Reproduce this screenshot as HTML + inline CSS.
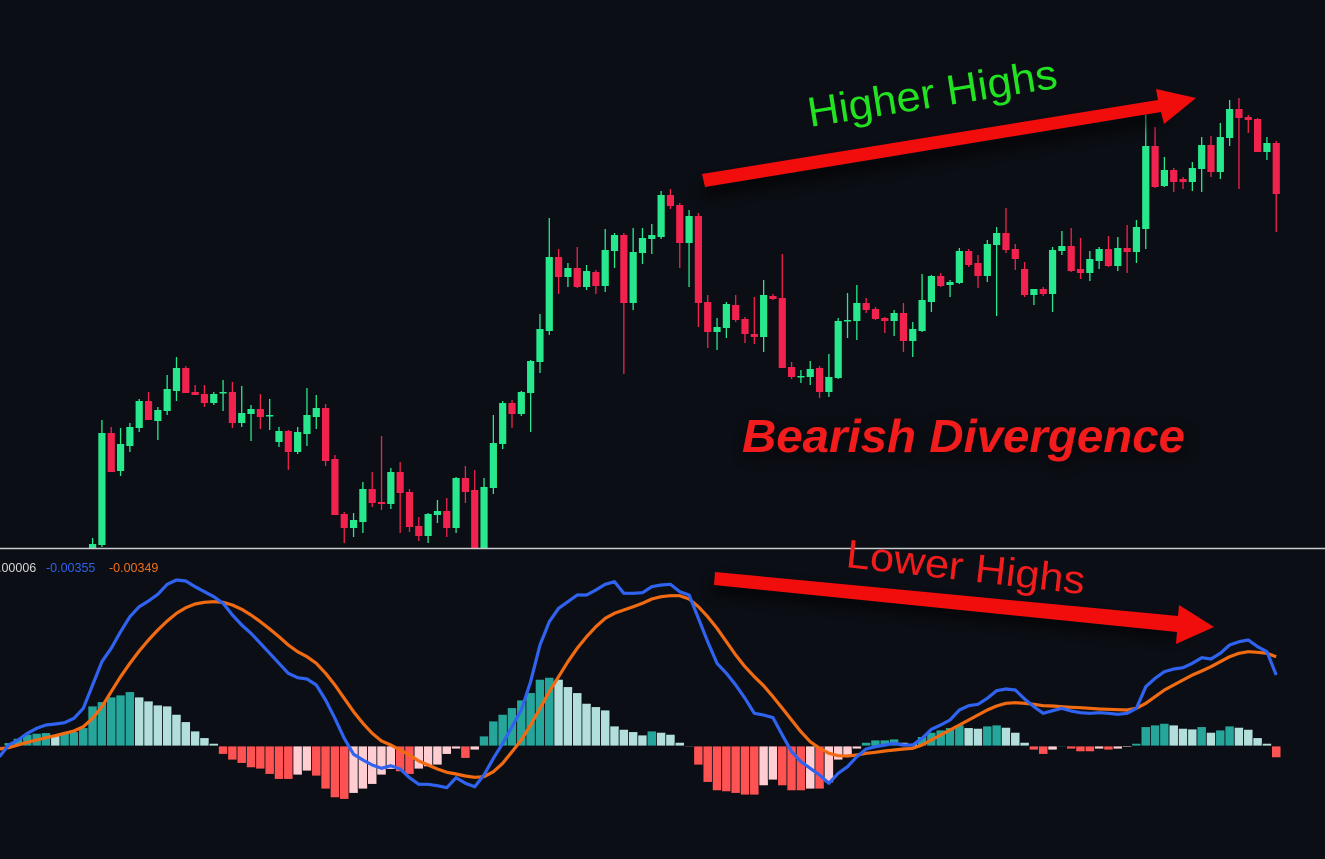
<!DOCTYPE html>
<html><head><meta charset="utf-8"><style>
html,body{margin:0;padding:0;background:#0b0e14;overflow:hidden}
svg{display:block}
</style></head><body>
<svg id="chart" width="1325" height="859" viewBox="0 0 1325 859" xmlns="http://www.w3.org/2000/svg" style="background:#0b0e14">
<defs>
<clipPath id="priceClip"><rect x="0" y="0" width="1325" height="548"/></clipPath>
<clipPath id="macdClip"><rect x="0" y="550" width="1325" height="309"/></clipPath>
<filter id="shadow" x="-20%" y="-50%" width="140%" height="200%"><feGaussianBlur stdDeviation="7"/></filter>
</defs>
<g id="candles" clip-path="url(#priceClip)"></g>
<line x1="0" y1="548.5" x2="1325" y2="548.5" stroke="#c9cbd0" stroke-width="1.5"/>
<g id="macd" clip-path="url(#macdClip)"></g>
<text x="-2" y="572" font-family="Liberation Sans, sans-serif" font-size="12.5" fill="#d8d8d8">.00006</text>
<text x="46" y="572" font-family="Liberation Sans, sans-serif" font-size="12.5" fill="#2f63f0">-0.00355</text>
<text x="109" y="572" font-family="Liberation Sans, sans-serif" font-size="12.5" fill="#f0701a">-0.00349</text>

<g>
<polygon points="703,185 1160,112 1162,122 705,196" fill="#000" opacity="0.8" filter="url(#shadow)"/>
<polygon points="702,174 1158,100 1156,89 1196,98 1164,124 1161,112 705,187" fill="#f20d0d"/>
<text x="0" y="0" transform="translate(810,127) rotate(-9)" font-family="Liberation Sans, sans-serif" font-size="42" fill="#22e322" textLength="252" lengthAdjust="spacingAndGlyphs">Higher Highs</text>
</g>
<g>
<text x="744" y="456" font-family="Liberation Sans, sans-serif" font-size="46" font-weight="bold" font-style="italic" fill="#000" opacity="0.7" filter="url(#shadow)" textLength="443" lengthAdjust="spacingAndGlyphs">Bearish Divergence</text>
<text x="742" y="452" font-family="Liberation Sans, sans-serif" font-size="46" font-weight="bold" font-style="italic" fill="#f21c1c" textLength="443" lengthAdjust="spacingAndGlyphs">Bearish Divergence</text>
</g>
<g>
<polygon points="715,580 1180,628 1178,638 713,592" fill="#000" opacity="0.8" filter="url(#shadow)"/>
<polygon points="715,572 1178,616 1179,605 1214,627 1176,644 1177,632 714,585" fill="#f20d0d"/>
<text x="0" y="0" transform="translate(845,567) rotate(6.5)" font-family="Liberation Sans, sans-serif" font-size="40" fill="#f21c1c" textLength="240" lengthAdjust="spacingAndGlyphs">Lower Highs</text>
</g>
</svg>
<script>
// Price data (OHLC)
const opens  = [12,15,127,89,114,132,159,139,149,169,192,168,166,157,167,168,137,146,151,144,118,129,108,126,143,152,101,46,32,38,71,58,56,88,68,34,24,45,49,32,82,70,12,72,116,157,146,167,198,229,303,283,292,273,288,274,309,325,257,307,321,323,365,355,317,344,258,228,232,255,241,226,223,264,262,193,183,183,192,168,182,239,239,257,251,242,239,247,219,229,258,284,275,277,309,297,284,315,327,311,291,265,271,266,309,314,291,287,299,311,294,312,308,331,414,374,390,381,378,391,415,388,422,451,443,441,408,417];
const highs  = [22,140,133,132,137,161,168,153,185,203,194,175,175,168,180,178,174,155,166,161,133,130,133,172,165,156,105,48,47,78,88,124,92,98,71,43,47,60,62,83,94,90,82,145,159,160,169,200,246,342,311,297,313,295,290,331,327,327,332,332,336,369,371,357,350,347,265,242,258,265,243,263,280,266,306,198,190,199,194,206,242,267,275,262,253,243,250,257,238,286,285,287,280,312,311,305,320,333,352,316,298,271,273,313,329,332,322,309,313,324,323,335,340,445,433,403,392,383,398,423,424,437,460,462,445,442,423,419];
const lows   = [12,13,88,84,108,128,140,120,145,159,167,165,153,155,149,132,133,119,131,130,113,90,106,114,131,94,45,17,23,27,53,50,51,27,28,19,17,37,23,27,57,12,12,66,111,132,144,128,187,225,266,273,272,270,266,268,292,186,250,296,306,321,351,292,273,233,212,210,222,238,217,216,208,260,192,181,177,175,162,163,181,222,220,247,240,227,224,208,203,228,248,273,263,276,293,272,278,244,307,290,263,255,264,248,305,288,281,279,291,293,289,287,297,311,372,373,368,371,369,368,383,381,414,371,427,408,400,328];
const closes = [16,127,88,116,133,159,140,150,171,192,167,165,157,166,168,137,147,151,143,145,129,108,128,145,152,99,45,32,40,71,57,56,88,67,33,24,46,49,32,82,68,12,73,117,157,146,168,199,231,303,283,292,273,289,274,310,325,257,308,322,325,365,354,317,344,257,228,233,256,240,226,223,265,261,192,183,184,191,168,183,239,240,257,250,241,239,247,219,231,260,284,274,278,309,295,284,316,327,310,301,265,271,266,310,314,289,287,301,311,294,312,308,333,414,373,390,378,378,392,415,388,423,451,442,440,408,417,366];

// MACD data (starts 10 bars before first candle)
const histogram = [-3,10,23,35,38,40,33,38,43,55,120,133,147,153,163,147,135,123,120,95,73,45,25,8,-25,-42,-52,-65,-69,-85,-100,-100,-87,-75,-90,-129,-155,-160,-142,-129,-115,-87,-70,-77,-85,-69,-62,-57,-25,-9,-37,-12,30,75,95,115,138,160,200,206,200,178,160,128,118,108,60,50,43,33,45,
 41,35,11,1,-57,-109,-134,-137,-142,-147,-147,-119,-102,-119,-134,-134,-129,-129,-110,-42,-27,-9,11,18,18,21,11,6,28,41,48,55,63,55,53,60,63,56,41,11,-12,-25,-12,1,-9,-17,-17,-9,-12,-9,-4,8,58,63,68,63,53,51,58,41,48,60,56,50,25,8,-35];
const macdLine = [-32,3,18,38,53,63,66,70,83,113,183,253,293,343,388,418,435,455,485,498,495,478,463,448,428,393,363,338,308,278,248,218,205,201,183,138,83,23,-25,-42,-57,-67,-59,-69,-95,-115,-115,-119,-125,-95,-112,-122,-87,-37,8,58,108,193,303,373,413,433,453,453,468,485,493,458,458,460,478,
 483,485,463,453,383,313,248,218,183,143,98,93,85,33,-17,-47,-67,-87,-112,-82,-62,-32,-9,-2,3,8,3,3,23,50,63,78,108,121,125,143,166,171,168,141,118,98,106,113,105,100,98,100,98,95,98,113,178,203,223,231,235,248,265,261,278,303,313,318,298,283,213];
const signalLine = [-9,-5,3,11,18,25,31,38,45,58,83,118,163,208,248,285,318,348,375,398,415,426,431,433,431,423,410,393,373,351,328,303,283,268,248,218,183,143,103,68,38,15,3,-12,-27,-45,-57,-69,-79,-84,-90,-94,-92,-77,-52,-17,18,63,113,163,208,253,293,328,358,383,398,408,418,428,441,
 448,451,451,441,418,388,353,313,273,238,208,181,148,113,78,43,13,-7,-22,-29,-30,-27,-22,-19,-15,-12,-9,-7,3,18,33,48,63,78,93,108,120,128,130,128,125,121,120,118,116,115,113,111,110,109,108,113,128,148,168,183,198,213,225,238,253,268,278,283,281,278,268];
const macdStartIndex = -10;

const NS = "http://www.w3.org/2000/svg";
const xBar = i => 92.6 + 9.32 * i;
const yPrice = p => 560 - p;
const yMacd = v => 746 - v / 3;
const GREEN = "#27e88c", RED = "#f2224e";

const cg = document.getElementById("candles");
for (let i = 0; i < opens.length; i++) {
  const up = closes[i] >= opens[i];
  const col = up ? GREEN : RED;
  const x = xBar(i);
  const wick = document.createElementNS(NS, "line");
  wick.setAttribute("x1", x); wick.setAttribute("x2", x);
  wick.setAttribute("y1", yPrice(highs[i])); wick.setAttribute("y2", yPrice(lows[i]));
  wick.setAttribute("stroke", col); wick.setAttribute("stroke-width", "1.3");
  
  
  cg.appendChild(wick);
  const top = yPrice(Math.max(opens[i], closes[i]));
  const bot = yPrice(Math.min(opens[i], closes[i]));
  const body = document.createElementNS(NS, "rect");
  body.setAttribute("x", x - 3.6); body.setAttribute("width", 7.2);
  body.setAttribute("y", top); body.setAttribute("height", Math.max(1.5, bot - top));
  body.setAttribute("fill", col);
  
  
  cg.appendChild(body);
}

const mg = document.getElementById("macd");
for (let k = 0; k < histogram.length; k++) {
  const v = histogram[k], prev = k > 0 ? histogram[k - 1] : v;
  let col;
  if (v >= 0) col = v >= prev ? "#26a69a" : "#b2dfdb";
  else col = v <= prev ? "#ff5252" : "#ffcdd2";
  const x = xBar(k + macdStartIndex);
  const y0 = yMacd(0), y1 = yMacd(v);
  const r = document.createElementNS(NS, "rect");
  r.setAttribute("x", x - 4.66); r.setAttribute("width", 9.32);
  r.setAttribute("y", Math.min(y0, y1)); r.setAttribute("height", Math.max(1, Math.abs(y1 - y0)));
  r.setAttribute("fill", col); r.setAttribute("stroke", "#0b0e14"); r.setAttribute("stroke-width", "0.8");
  
  
  mg.appendChild(r);
}
function drawLine(arr, color, name) {
  const pts = arr.map((v, k) => xBar(k + macdStartIndex).toFixed(1) + "," + yMacd(v).toFixed(1)).join(" ");
  const pl = document.createElementNS(NS, "polyline");
  pl.setAttribute("points", pts);
  pl.setAttribute("fill", "none"); pl.setAttribute("stroke", color);
  pl.setAttribute("stroke-width", "3.2"); pl.setAttribute("stroke-linejoin", "round");
  
  
  mg.appendChild(pl);
}
drawLine(signalLine, "#f26b12", "signal-line");
drawLine(macdLine, "#2f63f0", "macd-line");
</script>
</body></html>
